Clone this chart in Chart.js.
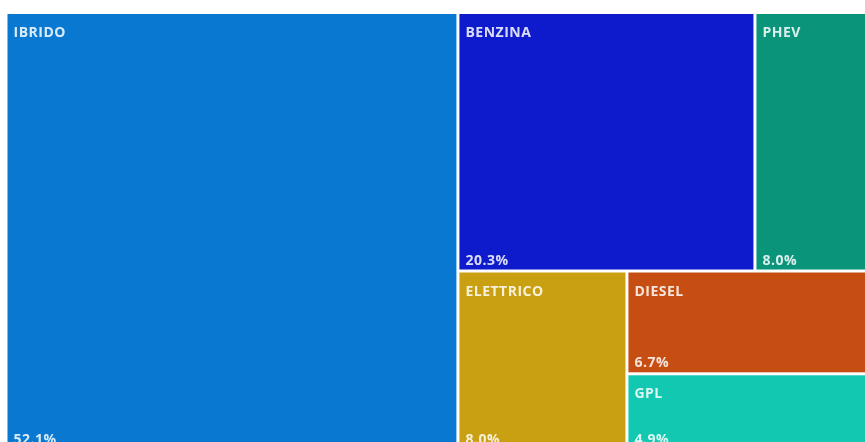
<!DOCTYPE html>
<html>
<head>
<meta charset="utf-8">
<script src="https://cdn.jsdelivr.net/npm/chart.js@4/dist/chart.umd.min.js"></script>
<style>
  html, body { margin: 0; padding: 0; background: #fff; overflow: hidden; }
  #wrap { width: 872px; height: 449px; position: relative; }
</style>
</head>
<body>
<div id="wrap"><canvas id="chart"></canvas></div>
<script>
// fuel type share (%)
const categories = ['IBRIDO', 'BENZINA', 'PHEV', 'ELETTRICO', 'DIESEL', 'GPL'];
const shares = [52.1, 20.3, 8.0, 8.0, 6.7, 4.9];
const shareLabels = ['52.1%', '20.3%', '8.0%', '8.0%', '6.7%', '4.9%'];
const colors = ['#0878d0', '#0e1bcc', '#0a957a', '#c9a012', '#c74e12', '#12c8b0'];
// how the tiles are grouped (indices into categories), split direction alternates by depth
const layoutTree = [0, [[1, 2], [3, [4, 5]]]];

function total(node) {
  return Array.isArray(node) ? node.reduce((s, n) => s + total(n), 0) : shares[node];
}

// slice and dice: depth 0 splits along x, depth 1 along y, ...
function layout(node, x0, y0, x1, y1, depth, out) {
  if (!Array.isArray(node)) {
    out.push({ i: node, x0, y0, x1, y1 });
    return out;
  }
  const sum = total(node);
  let pos = depth % 2 === 0 ? x0 : y0;
  node.forEach(child => {
    const f = total(child) / sum;
    if (depth % 2 === 0) {
      const w = (x1 - x0) * f;
      layout(child, pos, y0, pos + w, y1, depth + 1, out);
      pos += w;
    } else {
      const h = (y1 - y0) * f;
      layout(child, x0, pos, x1, pos + h, depth + 1, out);
      pos += h;
    }
  });
  return out;
}

const tiles = layout(layoutTree, 0, 0, 1, 1, 0, []);

const treemapPlugin = {
  id: 'treemap',
  afterDatasetsDraw(chart) {
    const { ctx, scales: { x, y } } = chart;
    const gap = 1.5;
    ctx.save();
    tiles.forEach(t => {
      const left = x.getPixelForValue(t.x0) + (t.x0 > 0 ? gap : 0);
      const right = x.getPixelForValue(t.x1) - (t.x1 < 1 ? gap : 0);
      const top = y.getPixelForValue(t.y0) + (t.y0 > 0 ? gap : 0);
      const bottom = y.getPixelForValue(t.y1) - (t.y1 < 1 ? gap : 0);
      ctx.fillStyle = colors[t.i];
      ctx.fillRect(left, top, right - left, bottom - top);

      ctx.fillStyle = 'rgba(255,255,255,0.85)';
      ctx.font = '700 14px "Open Sans", sans-serif';
      ctx.letterSpacing = '0.5px';
      ctx.textBaseline = 'alphabetic';
      ctx.textAlign = 'left';
      ctx.fillText(categories[t.i], left + 6, top + 23);
      ctx.fillText(shareLabels[t.i], left + 6, bottom - 5);
    });
    ctx.restore();
  }
};

new Chart(document.getElementById('chart'), {
  type: 'scatter',
  data: { datasets: [{ data: [] }] },
  options: {
    responsive: true,
    maintainAspectRatio: false,
    animation: false,
    layout: { padding: { left: 7.5, top: 14, right: 0, bottom: 0 } },
    plugins: { legend: { display: false }, tooltip: { enabled: false } },
    scales: {
      x: { type: 'linear', min: 0, max: 1, display: false },
      y: { type: 'linear', min: 0, max: 1, reverse: true, display: false }
    }
  },
  plugins: [treemapPlugin]
});
</script>
</body>
</html>
